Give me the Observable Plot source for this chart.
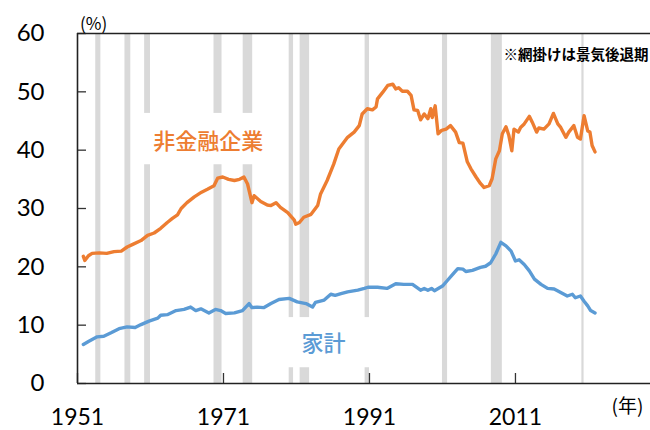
<!DOCTYPE html>
<html><head><meta charset="utf-8">
<script src="https://cdn.jsdelivr.net/npm/d3@7"></script>
<script src="https://cdn.jsdelivr.net/npm/@observablehq/plot@0.6"></script>
<style>body{margin:0;background:#fff}</style>
</head><body><div id="chart"></div>
<script>
// ---- data ----
const corpYears = [1951.8,1952.0,1952.5,1953.0,1954.0,1955.0,1956.0,1957.0,1957.8,1958.5,1959.7,1960.6,1961.5,1962.4,1963.3,1964.0,1964.7,1965.2,1966.0,1967.0,1968.0,1968.8,1969.7,1970.2,1970.9,1971.7,1972.5,1973.2,1973.8,1974.3,1974.9,1975.2,1976.1,1977.0,1977.5,1978.2,1978.8,1979.8,1980.7,1980.9,1981.4,1982.0,1983.0,1983.9,1984.3,1985.2,1986.1,1986.8,1988.0,1988.9,1989.6,1990.0,1990.7,1991.4,1991.9,1992.1,1992.8,1993.5,1994.2,1994.6,1995.0,1995.5,1996.2,1996.7,1997.1,1997.6,1998.0,1998.5,1999.0,1999.4,1999.6,2000.0,2000.4,2000.9,2001.5,2002.1,2002.8,2003.3,2003.8,2004.4,2004.9,2005.6,2006.2,2006.7,2007.4,2007.8,2008.3,2008.8,2009.2,2009.7,2010.1,2010.5,2010.8,2011.4,2011.7,2012.2,2012.9,2013.3,2013.9,2014.2,2014.9,2015.6,2016.2,2016.8,2017.2,2017.9,2018.3,2019.0,2019.5,2019.9,2020.4,2020.9,2021.2,2021.5,2021.9];
const corpValues = [21.8,21.1,21.9,22.3,22.4,22.3,22.6,22.7,23.4,23.8,24.5,25.4,25.8,26.6,27.6,28.3,28.9,30.0,31.0,32.0,32.8,33.3,33.9,35.2,35.4,35.0,34.8,35.0,35.4,34.2,31.0,32.2,31.2,30.6,30.5,31.0,30.2,29.3,28.0,27.3,27.6,28.5,29.0,30.5,32.5,34.8,37.6,40.2,42.2,43.1,44.2,46.2,47.1,46.9,47.4,48.8,49.9,51.1,51.3,50.5,50.7,50.1,50.1,49.4,46.9,46.8,45.2,46.2,45.4,47.1,45.6,47.6,42.8,43.4,43.6,44.2,43.1,41.3,41.2,38.0,36.8,35.4,34.3,33.6,33.9,35.1,38.5,39.9,42.8,44.0,42.5,39.9,43.6,43.1,43.9,44.5,45.8,44.8,43.1,43.8,43.6,44.5,46.3,44.5,43.9,42.2,43.1,44.2,42.2,41.9,45.9,43.3,43.1,40.8,39.7];

const hhYears = [1951.8,1952.5,1953.7,1954.6,1955.6,1956.7,1957.8,1958.9,1959.7,1960.8,1962.0,1962.4,1963.3,1964.5,1965.6,1966.5,1967.2,1967.9,1969.0,1969.9,1970.6,1971.3,1972.5,1973.6,1974.5,1974.9,1975.6,1976.5,1977.5,1978.6,1980.0,1981.1,1982.3,1983.2,1983.6,1984.8,1985.7,1986.3,1987.1,1988.0,1989.4,1990.3,1990.8,1992.1,1993.4,1994.6,1995.7,1996.9,1998.0,1998.5,1999.0,1999.5,1999.9,2001.0,2001.7,2002.4,2003.1,2003.8,2004.2,2005.1,2006.2,2006.9,2007.6,2008.3,2009.0,2009.7,2010.4,2011.0,2011.5,2012.2,2012.9,2013.6,2014.5,2015.4,2016.3,2017.2,2018.1,2018.8,2019.2,2019.9,2020.4,2020.9,2021.3,2021.9];
const hhValues = [6.7,7.2,8.0,8.1,8.7,9.4,9.7,9.6,10.1,10.7,11.2,11.7,11.8,12.5,12.7,13.1,12.5,12.8,12.1,12.7,12.5,12.0,12.1,12.5,13.7,13.0,13.1,13.0,13.7,14.4,14.6,14.0,13.7,13.1,13.9,14.3,15.3,15.1,15.4,15.7,16.0,16.3,16.5,16.5,16.3,17.1,17.0,17.0,16.0,16.3,16.0,16.3,15.9,16.7,17.7,18.7,19.7,19.6,19.2,19.4,19.9,20.1,20.7,22.2,24.2,23.6,22.7,21.0,21.2,20.4,19.3,17.9,17.0,16.3,16.2,15.6,15.0,15.3,14.7,15.0,14.1,13.3,12.5,12.1];

const recessionStarts = [1953.5,1957.5,1960.2,1969.7,1973.7,1980.0,1981.5,1990.4,2001.0,2007.7,2020.1];
const recessionEnds   = [1954.2,1958.3,1961.0,1970.8,1975.0,1980.6,1982.8,1991.0,2001.7,2009.2,2020.4];

const xTicks = [1951, 1971, 1991, 2011];
const yTicks = [0, 10, 20, 30, 40, 50, 60];
const xDomain = [1951, 2029.5];
const yDomain = [0, 60];

const seriesNames = ["非金融企業", "家計"];
const seriesColors = ["#ED7D31", "#5B9BD5"];
const unitY = "(%)";
const unitX = "(年)";
const note = "※網掛けは景気後退期";

// ---- tables ----
const corp = corpYears.map((y, i) => ({year: y, value: corpValues[i]}));
const hh = hhYears.map((y, i) => ({year: y, value: hhValues[i]}));
const recessions = recessionStarts.map((s, i) => ({start: s, end: recessionEnds[i]}));

// label annotations (position of text and the white box behind it)
const labels = [
  {text: seriesNames[0], color: seriesColors[0], x: 1968.9, y: 41.4, x1: 1959.7, x2: 1976.8, y1: 37.5, y2: 46.3},
  {text: seriesNames[1], color: seriesColors[1], x: 1984.7, y: 6.8, x1: 1978.9, x2: 1991.8, y1: 2.7, y2: 11.3}
];

const chart = Plot.plot({
  width: 650, height: 430,
  marginLeft: 77, marginRight: 0, marginTop: 33, marginBottom: 47,
  style: {fontFamily: "Lato, 'Noto Sans CJK JP', sans-serif", background: "#fff", color: "#000"},
  x: {domain: xDomain},
  y: {domain: yDomain},
  marks: [
    Plot.rect(recessions, {x1: "start", x2: "end", y1: yDomain[0], y2: yDomain[1], fill: "#d9d9d9"}),
    Plot.rect(labels, {x1: "x1", x2: "x2", y1: "y1", y2: "y2", fill: "white"}),
    Plot.axisY({ticks: yTicks, tickSize: 0, tickPadding: 33, fontSize: 24, label: null, tickFormat: d => String(d)}),
    Plot.axisY({ticks: yTicks, tickSize: -9, fill: "none", stroke: "#333", strokeWidth: 1.3, label: null}),
    Plot.axisX({ticks: xTicks, tickSize: 0, tickPadding: 25, fontSize: 23, label: null, tickFormat: d => String(d)}),
    Plot.axisX({ticks: xTicks, tickSize: -10, fill: "none", stroke: "#333", strokeWidth: 1.3, label: null}),
    Plot.ruleY([yDomain[0], yDomain[1]], {stroke: "#222", strokeWidth: 1.6}),
    Plot.ruleX([xDomain[0]], {stroke: "#222", strokeWidth: 1.6}),
    Plot.line(corp, {x: "year", y: "value", stroke: seriesColors[0], strokeWidth: 3.4, strokeLinejoin: "round"}),
    Plot.line(hh, {x: "year", y: "value", stroke: seriesColors[1], strokeWidth: 3.4, strokeLinejoin: "round"}),
    Plot.text(labels, {x: "x", y: "y", text: "text", fill: "color", fontSize: 22, fontFamily: "'Noto Sans CJK JP', sans-serif", fontWeight: 500}),
    Plot.text([unitY], {frameAnchor: "top-left", dx: 2.5, dy: -16, text: d => d, fontSize: 17, fontFamily: "'Noto Sans CJK JP', sans-serif"}),
    Plot.text([unitX], {frameAnchor: "bottom-right", textAnchor: "start", dx: -39, dy: 29, text: d => d, fontSize: 19, fontFamily: "'Noto Sans CJK JP', sans-serif"}),
    Plot.text([note], {frameAnchor: "top-right", textAnchor: "end", dx: -2, dy: 16, text: d => d, fontSize: 14.5, fontWeight: "bold", fontFamily: "'Noto Sans CJK JP', sans-serif"})
  ]
});
document.getElementById("chart").appendChild(chart);
</script>
</body></html>
